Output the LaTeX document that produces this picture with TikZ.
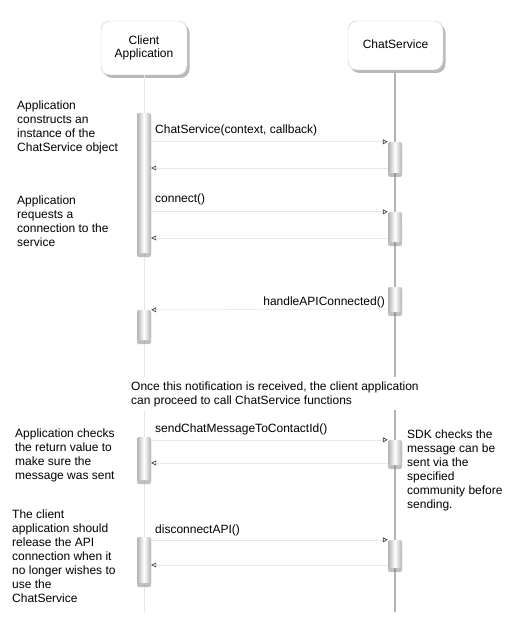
\documentclass[tikz,border=0pt]{standalone}
\usepackage{fontspec}
\setmainfont{Liberation Sans}
\usetikzlibrary{arrows.meta,shadows}
\begin{document}
\begin{tikzpicture}[x=1pt,y=-1pt,
  every node/.style={font=\fontsize{12}{14}\selectfont, inner sep=0pt},
  head/.style={draw=gray!45, rounded corners=9pt, fill=white, align=center,
    drop shadow={shadow xshift=2.5pt, shadow yshift=-3pt, opacity=0.55},
    font=\fontsize{12}{12.5}\selectfont},
  actbar/.style={minimum width=14pt, rounded corners=2pt, left color=gray!60,
    right color=gray!60, middle color=white,
    drop shadow={shadow xshift=0pt, shadow yshift=-4pt, opacity=0.5}},
  msg/.style={draw=gray!18, line width=0.6pt,
    -{Triangle[open, length=5pt, width=5pt, color=black!75, line width=0.7pt]}},
  note/.style={align=left, anchor=base west},
  lifeC/.style={draw=gray!18, line width=0.7pt},
  lifeS/.style={draw=gray!60, line width=1.3pt}
]
\useasboundingbox (0,0) rectangle (517,617);

% headers
\node[head, minimum width=86pt, minimum height=54pt, text depth=3pt] (cli) at (144,48) {Client\\Application};
\node[head, minimum width=95pt, minimum height=49pt, text depth=2pt] (svc) at (395.5,45.5) {ChatService};

% lifelines
\coordinate (cliend) at (144,612);
\coordinate (svcend) at (395,612);
\draw[lifeC] (cli.south) -- (cliend);
\draw[lifeS] (svc.south -| svcend) -- (svcend);

% activation bars
\node[actbar, minimum height=140pt] (c1) at (144,183) {};
\node[actbar, minimum height=31pt] (s1) at (395,157.5) {};
\node[actbar, minimum height=30pt] (s2) at (395,227) {};
\node[actbar, minimum height=25pt] (s3) at (395,299.5) {};
\node[actbar, minimum height=30pt] (c2) at (144,325) {};
\node[actbar, minimum height=43pt] (c3) at (144,458.5) {};
\node[actbar, minimum height=25pt] (s4) at (395,452.5) {};
\node[actbar, minimum height=46pt] (c4) at (144,560) {};
\node[actbar, minimum height=28pt] (s5) at (395,554) {};

% messages
\coordinate (y1) at (0,168);
\coordinate (y2) at (0,238);
\coordinate (y3) at (0,309);
\coordinate (y4) at (0,463);
\coordinate (y5) at (0,565);
\draw[msg] (c1.east |- s1.north west) -- (s1.north west);
\draw[msg] (s1.west |- y1) -- (c1.east |- y1);
\draw[msg] (c1.east |- s2.north west) -- (s2.north west);
\draw[msg] (s2.west |- y2) -- (c1.east |- y2);
\draw[msg] (s3.west |- y3) -- (c2.north east);
\draw[msg] (c3.east |- s4.north west) -- (s4.north west);
\draw[msg] (s4.west |- y4) -- (c3.east |- y4);
\draw[msg] (c4.east |- s5.north west) -- (s5.north west);
\draw[msg] (s5.west |- y5) -- (c4.east |- y5);

% message labels
\node[anchor=base west] (l1) at (155,134) {ChatService(context, callback)};
\node[anchor=base west] (l2) at (155,203) {connect()};
\node[anchor=base east] (l3) at (385,305) {handleAPIConnected()};
\node[anchor=base west] (l4) at (155,432) {sendChatMessageToContactId()};
\node[anchor=base west] (l5) at (155,533) {disconnectAPI()};

% notes (anchored at the baseline of the last line)
\node[note] (n1) at (17,151.5) {Application\\constructs an\\instance of the\\ChatService object};
\node[note] (n2) at (17,247) {Application\\requests a\\connection to the\\service};
\node[note, fill=white, inner ysep=4pt, inner xsep=1pt] (n3) at (130,404) {Once this notification is received, the client application\\can proceed to call ChatService functions};
\node[note] (n4) at (15,479) {Application checks\\the return value to\\make sure the\\message was sent};
\node[note] (n5) at (407,508) {SDK checks the\\message can be\\sent via the\\specified\\community before\\sending.};
\node[note] (n6) at (12,602) {The client\\application should\\release the API\\connection when it\\no longer wishes to\\use the\\ChatService};
\end{tikzpicture}
\end{document}
